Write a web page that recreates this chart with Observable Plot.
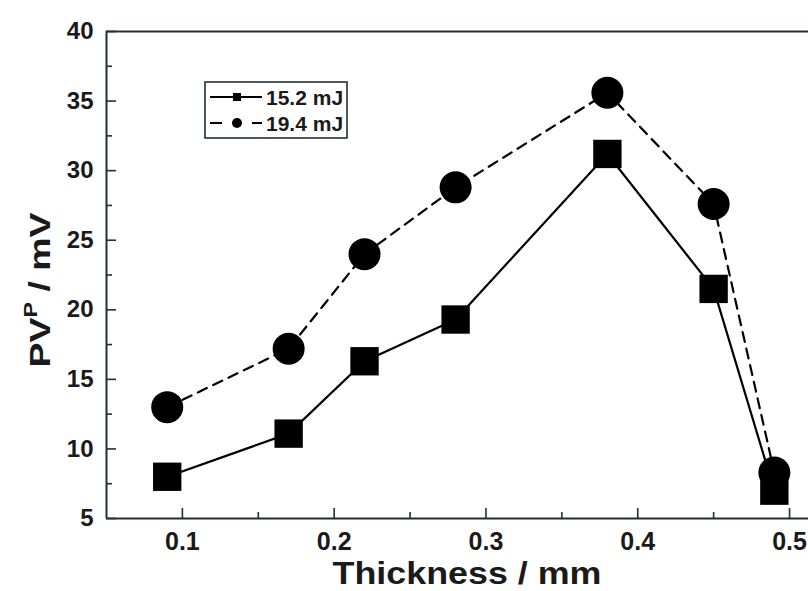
<!DOCTYPE html>
<html><head><meta charset="utf-8">
<script src="https://cdn.jsdelivr.net/npm/d3@7"></script>
<script src="https://cdn.jsdelivr.net/npm/@observablehq/plot@0.6"></script>
<style>body{margin:0;background:#fff}#chart{position:relative;width:808px;height:591px}</style>
</head><body><div id="chart"></div>
<script>
const thickness = [0.09, 0.17, 0.22, 0.28, 0.38, 0.45, 0.49];
const pv152 = [8.0, 11.1, 16.3, 19.3, 31.2, 21.5, 7.0];
const pv194 = [13.0, 17.2, 24.0, 28.8, 35.6, 27.6, 8.3];
const seriesNames = ["15.2 mJ", "19.4 mJ"];
const xMajor = [0.1, 0.2, 0.3, 0.4, 0.5];
const xMinor = [0.15, 0.25, 0.35, 0.45];
const yMajor = [5, 10, 15, 20, 25, 30, 35, 40];
const yMinor = [7.5, 12.5, 17.5, 22.5, 27.5, 32.5, 37.5];

const d1 = thickness.map((t, i) => ({t, v: pv152[i]}));
const d2 = thickness.map((t, i) => ({t, v: pv194[i]}));
const font = "'Liberation Sans', Arial, sans-serif";
const ink = "#1a1a1a";
const frameInk = "#243030";

const plot = Plot.plot({
  width: 808, height: 591,
  marginLeft: 106, marginRight: 0, marginTop: 31, marginBottom: 73,
  style: {fontFamily: font, fontWeight: "bold", fontSize: "24px", color: ink, background: "#fff"},
  x: {domain: [0.05, 0.5125], label: null},
  y: {domain: [5, 40], label: null},
  marks: [
    Plot.axisX({ticks: xMajor, tickSize: -10, tickPadding: 24, tickFormat: d3.format(".1f"), stroke: frameInk, strokeWidth: 1.6, fontSize: 25, fontWeight: "bold", fill: ink}),
    Plot.axisX({ticks: xMinor, tickSize: -6, tickFormat: () => "", stroke: frameInk, strokeWidth: 1.6}),
    Plot.axisY({ticks: yMajor, tickSize: -10, tickPadding: 23, stroke: frameInk, strokeWidth: 1.6, fontSize: 24, fontWeight: "bold", fill: ink}),
    Plot.axisY({ticks: yMinor, tickSize: -6, tickFormat: () => "", stroke: frameInk, strokeWidth: 1.6}),
    Plot.ruleX([0.05], {stroke: frameInk, strokeWidth: 2}),
    Plot.ruleY([5], {stroke: frameInk, strokeWidth: 2}),
    Plot.ruleY([40], {stroke: frameInk, strokeWidth: 2}),
    Plot.line(d2, {x: "t", y: "v", stroke: "#000", strokeWidth: 2.2, strokeDasharray: "10,7"}),
    Plot.line(d1, {x: "t", y: "v", stroke: "#000", strokeWidth: 2.2}),
    Plot.dot(d2, {x: "t", y: "v", r: 16, symbol: "circle", fill: "#000"}),
    Plot.dot(d1, {x: "t", y: "v", r: 16, symbol: "square", fill: "#000"})
  ]
});
document.getElementById("chart").appendChild(plot);

const svg = d3.select(plot);
// x title
svg.append("text").attr("x", 467).attr("y", 584).attr("text-anchor", "middle")
  .attr("font-family", font).attr("font-weight", "bold").attr("font-size", 31).attr("fill", ink)
  .attr("textLength", 269).attr("lengthAdjust", "spacingAndGlyphs")
  .text("Thickness / mm");
// y title with superscript
const yt = svg.append("text").attr("transform", "translate(50,290) rotate(-90)")
  .attr("text-anchor", "middle").attr("font-family", font).attr("font-weight", "bold")
  .attr("font-size", 29).attr("fill", ink)
  .attr("textLength", 155).attr("lengthAdjust", "spacingAndGlyphs");
yt.append("tspan").text("PV");
yt.append("tspan").attr("font-size", 18).attr("dy", -13).text("P");
yt.append("tspan").attr("dy", 13).text(" / mV");

// legend
const lg = svg.append("g").attr("font-family", font).attr("font-weight", "bold").attr("font-size", 21).attr("fill", ink).attr("text-anchor", "start");
lg.append("rect").attr("x", 205).attr("y", 82).attr("width", 142).attr("height", 56)
  .attr("fill", "none").attr("stroke", frameInk).attr("stroke-width", 1.6);
lg.append("line").attr("x1", 210).attr("x2", 262).attr("y1", 97).attr("y2", 97).attr("stroke", "#000").attr("stroke-width", 2.2);
lg.append("rect").attr("x", 233).attr("y", 93).attr("width", 8).attr("height", 8).attr("fill", "#000");
lg.append("text").attr("x", 266).attr("y", 105).attr("text-anchor", "start").text(seriesNames[0]);
lg.append("line").attr("x1", 210).attr("x2", 262).attr("y1", 123).attr("y2", 123).attr("stroke", "#000").attr("stroke-width", 2.2).attr("stroke-dasharray", "12,30");
lg.append("circle").attr("cx", 237).attr("cy", 123).attr("r", 5).attr("fill", "#000");
lg.append("text").attr("x", 266).attr("y", 131).attr("text-anchor", "start").text(seriesNames[1]);
</script></body></html>
